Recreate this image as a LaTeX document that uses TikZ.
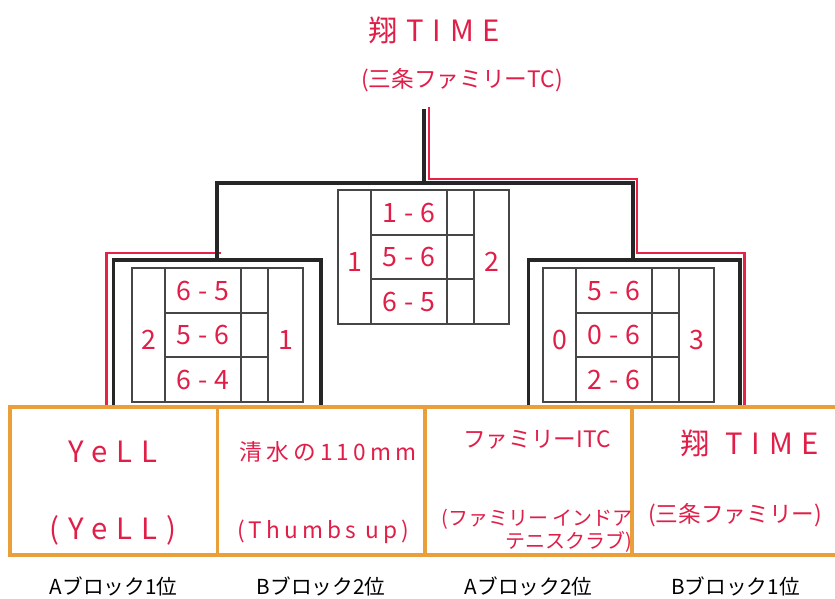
\documentclass[tikz,border=0pt]{standalone}
\usepackage{fontspec}
\newfontfamily\jpfont{Noto Sans CJK JP}
\usetikzlibrary{calc, positioning}

\definecolor{pen}{RGB}{224,30,72}
\definecolor{marker}{RGB}{232,34,70}
\definecolor{frame}{RGB}{234,160,58}
\definecolor{ink}{RGB}{38,38,38}

\tikzset{
  bracket/.style={draw=ink, line width=2.6pt},
  win/.style={draw=marker, line width=1.8pt},
  team/.style={draw=frame, line width=2.6pt, minimum width=155.6pt, minimum height=111pt, inner sep=0pt},
  cell/.style={draw=gray!55!black, line width=0.8pt},
  hand/.style={text=pen, inner sep=0pt, font=\jpfont\fontsize{17}{20}\selectfont},
  handwide/.style={hand, font=\jpfont\fontsize{22}{24}\selectfont\addfontfeature{LetterSpace=30}},
  handloose/.style={hand, font=\jpfont\fontsize{17}{20}\selectfont\addfontfeature{LetterSpace=18}},
  handscore/.style={hand, font=\jpfont\fontsize{20}{22}\selectfont\addfontfeature{LetterSpace=25}},
  blocklabel/.style={font=\jpfont\fontsize{15.5}{18}\selectfont, text=black}
}

\begin{document}
\begin{tikzpicture}[x=0.75pt, y=-0.75pt]
\useasboundingbox (0,0) rectangle (835,599);

% teams
\node[team] (t1) at (113.5,481) {};
\node[team] (t2) at (321,481) {};
\node[team] (t3) at (528.5,481) {};
\node[team] (t4) at (735.5,481) {};

\node[handwide] (n1) at (113,452) {YeLL};
\node[handwide] (n1b) at (113,530) {(YeLL)};
\node[handloose] (n2) at (328,452) {清水の110mm};
\node[handloose] (n2b) at (323,532) {(Thumbs up)};
\node[hand] (n3) at (537,440) {ファミリーITC};
\node[hand, font=\jpfont\fontsize{15}{17}\selectfont, align=right, anchor=east] (n3b) at (633,531) {(ファミリー インドア\\テニスクラブ)};
\node[handwide] (n4) at (750,443) {翔 TIME};
\node[hand] (n4b) at (735,515) {(三条ファミリー)};

\node[blocklabel] (l1) at ($(t1.south)+(0,30)$) {Aブロック1位};
\node[blocklabel] (l2) at ($(t2.south)+(0,30)$) {Bブロック2位};
\node[blocklabel] (l3) at ($(t3.south)+(0,30)$) {Aブロック2位};
\node[blocklabel] (l4) at ($(t4.south)+(0,30)$) {Bブロック1位};

% champion
\node[handwide] (champ) at (434,30) {翔TIME};
\node[hand] (champsub) at (462,80) {(三条ファミリーTC)};

\coordinate (m1) at (217,260);
\coordinate (m2) at (633,260);
\coordinate (top) at (424,183);
\coordinate (crown) at (424,109);

% winners
\draw[win] ($(t1.north)+(-7,0)$) |- ($(m1)+(4,-7)$);
\draw[win] ($(t4.north)+(9,0)$) |- ($(m2)+(4,-7)$) |- ($(top)+(5,-4)$) -- ($(crown)+(5,-2)$);

% bracket
\draw[bracket] (t1.north) |- (m1) -| (t2.north);
\draw[bracket] (t3.north) |- (m2) -| ([xshift=3.5pt]t4.north);
\draw[bracket] (m1) |- (top) -| (m2);
\draw[bracket] (top) -- (crown);

% score tables
\foreach \nm/\x/\y/\lft/\one/\two/\three/\rgt in
  {sa/132/268/2/6-5/5-6/6-4/1, sf/338/190/1/1-6/5-6/6-5/2, sb/543/268/0/5-6/0-6/2-6/3} {
  \draw[cell] (\x,\y) rectangle (\x+171,\y+134);
  \draw[cell] (\x+33,\y) -- (\x+33,\y+134);
  \draw[cell] (\x+109,\y) -- (\x+109,\y+134);
  \draw[cell] (\x+136,\y) -- (\x+136,\y+134);
  \draw[cell] (\x+33,\y+45) -- (\x+136,\y+45);
  \draw[cell] (\x+33,\y+89) -- (\x+136,\y+89);
  \node[handscore] (\nm-l) at (\x+16.5,\y+72) {\lft};
  \node[handscore] (\nm-1) at (\x+71,\y+22.5) {\one};
  \node[handscore] (\nm-2) at (\x+71,\y+67) {\two};
  \node[handscore] (\nm-3) at (\x+71,\y+111.5) {\three};
  \node[handscore] (\nm-r) at (\x+153.5,\y+72) {\rgt};
}
\end{tikzpicture}
\end{document}
